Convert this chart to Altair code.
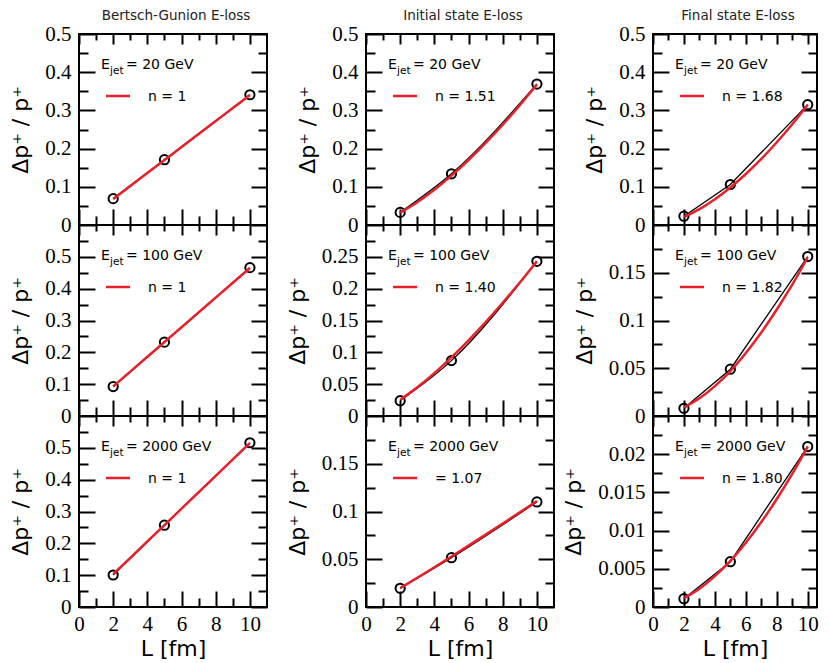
import altair as alt
import pandas as pd

# ---------------- data ----------------
L_POINTS = [2, 5, 10]
L_FIT = [2, 3, 4, 5, 6, 7, 8, 9, 10]

COLUMN_TITLES = ["Bertsch-Gunion E-loss", "Initial state E-loss", "Final state E-loss"]
E_JET = ["20", "100", "2000"]

# computed points (circles + black line), rows: 20, 100, 2000 GeV
BG_POINTS = [[0.069, 0.171, 0.341], [0.0925, 0.232, 0.466], [0.1005, 0.257, 0.516]]
INIT_POINTS = [[0.033, 0.134, 0.369], [0.024, 0.087, 0.243], [0.0196, 0.0516, 0.110]]
FINAL_POINTS = [[0.023, 0.106, 0.315], [0.0081, 0.049, 0.167], [0.00109, 0.00593, 0.0210]]

# red power-law fit curves read at L = 2..10
BG_FIT = [
    [0.068, 0.102, 0.136, 0.170, 0.204, 0.238, 0.272, 0.306, 0.340],
    [0.093, 0.1395, 0.186, 0.2325, 0.279, 0.3255, 0.372, 0.4185, 0.465],
    [0.103, 0.1545, 0.206, 0.2575, 0.309, 0.3605, 0.412, 0.4635, 0.515],
]
INIT_FIT = [
    [0.0324, 0.0597, 0.0922, 0.1292, 0.1701, 0.2147, 0.2627, 0.3139, 0.368],
    [0.0255, 0.0450, 0.0674, 0.0921, 0.1189, 0.1475, 0.1778, 0.2096, 0.243],
    [0.0198, 0.0306, 0.0416, 0.0529, 0.0643, 0.0758, 0.0874, 0.0992, 0.111],
]
FINAL_FIT = [
    [0.0211, 0.0417, 0.0676, 0.0983, 0.1335, 0.1730, 0.2166, 0.2639, 0.315],
    [0.00887, 0.01855, 0.03133, 0.0470, 0.0660, 0.0875, 0.1115, 0.1375, 0.166],
    [0.00116, 0.00240, 0.00404, 0.00603, 0.00842, 0.01112, 0.01413, 0.01742, 0.0210],
]

BG_N = ["n = 1", "n = 1", "n = 1"]
INIT_N = ["n = 1.51", "n = 1.40", "= 1.07"]
FINAL_N = ["n = 1.68", "n = 1.82", "n = 1.80"]

POINTS = [BG_POINTS, INIT_POINTS, FINAL_POINTS]
FITS = [BG_FIT, INIT_FIT, FINAL_FIT]
N_LABELS = [BG_N, INIT_N, FINAL_N]

# axes
Y_MAX = [[0.5, 0.6, 0.6], [0.5, 0.3, 0.2], [0.5, 0.2, 0.025]]
T_01 = [0, 0.1, 0.2, 0.3, 0.4, 0.5]
M_01 = [0.05, 0.15, 0.25, 0.35, 0.45, 0.55]
T_005A = [0, 0.05, 0.1, 0.15, 0.2, 0.25]
M_005A = [0.025, 0.075, 0.125, 0.175, 0.225, 0.275]
T_005B = [0, 0.05, 0.1, 0.15]
M_005B = [0.025, 0.075, 0.125, 0.175]
T_0005 = [0, 0.005, 0.01, 0.015, 0.02]
M_0005 = [0.0025, 0.0075, 0.0125, 0.0175, 0.0225]
Y_MAJOR = [[T_01, T_01, T_01], [T_01, T_005A, T_005B], [T_01, T_005B, T_0005]]
Y_MINOR = [[M_01, M_01, M_01], [M_01, M_005A, M_005B], [M_01, M_005B, M_0005]]
X_MAJOR = [0, 2, 4, 6, 8, 10]
X_MINOR = [1, 3, 5, 7, 9]
X_MAX = [11, 11, 10.6]

RED = "#e8202a"
SANS = "DejaVu Sans"
SERIF = "Liberation Serif"
WIDTHS = [188, 188, 164]
BLACK_INTERP = ["monotone", "monotone", "linear"]
H = 191


def make_axis(orient, values, size, labels=False, title=None, fmt="~g", title_pad=12,
              label_pad=8):
    kw = dict(orient=orient, values=values, tickSize=size, offset=-size, domain=False,
              grid=False, ticks=True, tickColor="black", tickWidth=2, labels=labels,
              labelFlush=False, labelOverlap=False)
    if labels:
        kw.update(format=fmt, labelFont=SERIF, labelFontSize=21, labelColor="black",
                  labelPadding=label_pad)
    if title:
        kw.update(title=title, titleFont=SANS, titleFontSize=22, titleFontWeight="normal",
                  titleColor="black", titlePadding=title_pad)
    else:
        kw.update(title=None)
    return alt.Axis(**kw)


def panel(c, r):
    W = WIDTHS[c]
    pts = pd.DataFrame({"L": L_POINTS, "v": POINTS[c][r]})
    fit = pd.DataFrame({"L": L_FIT, "v": FITS[c][r]})
    leg = pd.DataFrame({"e": ["E"], "sub": ["jet"], "rest": [f"= {E_JET[r]} GeV"],
                        "n": [N_LABELS[c][r]], "title": [COLUMN_TITLES[c]]})
    xs = alt.Scale(domain=[0, X_MAX[c]], nice=False)
    ys = alt.Scale(domain=[0, Y_MAX[c][r]], nice=False, zero=True)
    bottom = r == 2

    ax_bottom = make_axis("bottom", X_MAJOR, 16, labels=bottom,
                          title="L [fm]" if bottom else None, fmt="d", title_pad=4,
                          label_pad=6)
    ax_bottom_minor = make_axis("bottom", X_MINOR, 9)
    ax_top = make_axis("top", X_MAJOR, 10)
    ax_top_minor = make_axis("top", X_MINOR, 6)
    ax_left = make_axis("left", Y_MAJOR[c][r], 16, labels=True, title="Δp⁺ / p⁺")
    ax_left_minor = make_axis("left", Y_MINOR[c][r], 9)
    ax_right = make_axis("right", Y_MAJOR[c][r], 16)
    ax_right_minor = make_axis("right", Y_MINOR[c][r], 9)

    black = alt.Chart(pts).mark_line(color="black", strokeWidth=1.3,
                                     interpolate=BLACK_INTERP[c]).encode(
        x=alt.X("L:Q", scale=xs, axis=ax_bottom),
        y=alt.Y("v:Q", scale=ys, axis=ax_left),
    )
    circles = alt.Chart(pts).mark_point(shape="circle", filled=False, color="black",
                                         size=85, strokeWidth=2, opacity=1).encode(
        x=alt.X("L:Q", scale=xs, axis=ax_top),
        y=alt.Y("v:Q", scale=ys, axis=ax_right),
    )
    red = alt.Chart(fit).mark_line(color=RED, strokeWidth=2.5, interpolate="monotone").encode(
        x=alt.X("L:Q", scale=xs, axis=ax_bottom_minor),
        y=alt.Y("v:Q", scale=ys, axis=ax_left_minor),
    )
    ghost = alt.Chart(pts).mark_point(opacity=0).encode(
        x=alt.X("L:Q", scale=xs, axis=ax_top_minor),
        y=alt.Y("v:Q", scale=ys, axis=ax_right_minor),
    )
    base = alt.Chart(leg)
    sample = base.mark_rule(color=RED, strokeWidth=2.5).encode(
        x=alt.value(27), x2=alt.value(51), y=alt.value(62))
    t_e = base.mark_text(font=SANS, fontSize=14, align="left", baseline="alphabetic",
                         color="black").encode(text="e:N", x=alt.value(22), y=alt.value(35))
    t_sub = base.mark_text(font=SANS, fontSize=10.5, align="left", baseline="alphabetic",
                           color="black").encode(text="sub:N", x=alt.value(31), y=alt.value(40))
    t_rest = base.mark_text(font=SANS, fontSize=14, align="left", baseline="alphabetic",
                            color="black").encode(text="rest:N", x=alt.value(47), y=alt.value(35))
    t_n = base.mark_text(font=SANS, fontSize=14, align="left", baseline="alphabetic",
                         color="black").encode(text="n:N", x=alt.value(69), y=alt.value(67))
    layers = [black, circles, red, ghost, sample, t_e, t_sub, t_rest, t_n]
    if r == 0:
        layers.append(base.mark_text(font=SANS, fontSize=13.5, align="center",
                                     baseline="alphabetic", color="#222").encode(
            text="title:N", x=alt.value(W / 2 + 3), y=alt.value(-14)))

    return alt.layer(*layers).resolve_axis(
        x="independent", y="independent").properties(width=W, height=H)


panels = [panel(c, r) for r in range(3) for c in range(3)]

chart = alt.concat(
    *panels, columns=3, spacing={"row": 0, "column": 99}, bounds="flush", align="each"
).properties(padding=0).configure_view(stroke="black", strokeWidth=2)

chart.save("out.html", embed_options={"renderer": "svg", "actions": False})
